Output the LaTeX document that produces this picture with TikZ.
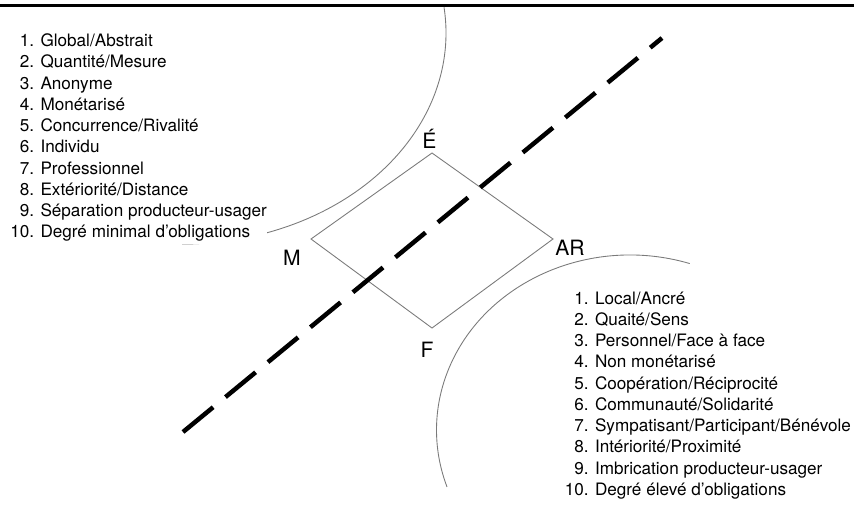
\documentclass[tikz,border=0pt]{standalone}
\usepackage{fontspec}
\setmainfont{TeX Gyre Heros}
\usepackage{xcolor}
\definecolor{TraitGris}{HTML}{7A7A7A}
\usepackage{tikz}
\usetikzlibrary{calc,positioning}
\tikzset{
  pole/.style={anchor=base, inner sep=0pt, font=\fontsize{12}{14}\selectfont},
  liste/.style={anchor=base west, fill=white, inner sep=0pt, font=\fontsize{9.75}{12.1}\selectfont},
  contour/.style={draw=TraitGris, line width=0.5pt},
}

\begin{document}
\begin{tikzpicture}
		\useasboundingbox (0,0) rectangle (17.08,-10.5);
		\draw[line width=0.06cm] (0,-0.11) -- (17.08,-0.11);
		\coordinate (cMarche) at (3.64,-0.66);
		\coordinate (cProx) at (12.6,-8.6);
		\draw[contour] (cMarche) ++(7:5.28cm and 4.22cm) arc[start angle=7, end angle=-90, x radius=5.28, y radius=4.22];
		\draw[contour] (cProx) ++(72:3.87cm and 3.5cm) arc[start angle=72, end angle=199, x radius=3.87, y radius=3.5];
		\node[liste] (marche) at (0.2,-0.93) {\begin{tabular}[t]{@{}r@{ }l@{}}
			1. & Global/Abstrait\\
			2. & Quantité/Mesure\\
			3. & Anonyme\\
			4. & Monétarisé\\
			5. & Concurrence/Rivalité\\
			6. & Individu\\
			7. & Professionnel\\
			8. & Extériorité/Distance\\
			9. & Séparation producteur-usager\\
			10. & Degré minimal d’obligations
		\end{tabular}};
		\node[liste] (proximite) at (11.29,-6.08) {\begin{tabular}[t]{@{}r@{ }l@{}}
			1. & Local/Ancré\\
			2. & Quaité/Sens\\
			3. & Personnel/Face à face\\
			4. & Non monétarisé\\
			5. & Coopération/Réciprocité\\
			6. & Communauté/Solidarité\\
			7. & Sympatisant/Participant/Bénévole\\
			8. & Intériorité/Proximité\\
			9. & Imbrication producteur-usager\\
			10. & Degré élevé d’obligations
		\end{tabular}};
		\coordinate (sE) at (8.64,-3.06);
		\coordinate (sM) at (6.22,-4.78);
		\coordinate (sAR) at (11.06,-4.78);
		\coordinate (sF) at (8.64,-6.56);
		\draw[contour] (sE) -- (sAR) -- (sF) -- (sM) -- cycle;
		\node[pole] (etat) at (8.59,-2.96) {É};
		\node[pole] (menage) at (5.84,-5.3) {M};
		\node[pole] (assoc) at (11.4,-5.1) {AR};
		\node[pole] (famille) at (8.54,-7.14) {F};
		\coordinate (axeBas) at (3.66,-8.64);
		\coordinate (axeHaut) at (13.24,-0.76);
		\draw[line width=0.09cm, dash pattern=on 0.78cm off 0.32cm] (axeBas) -- (axeHaut);
	\end{tikzpicture}
\end{document}
